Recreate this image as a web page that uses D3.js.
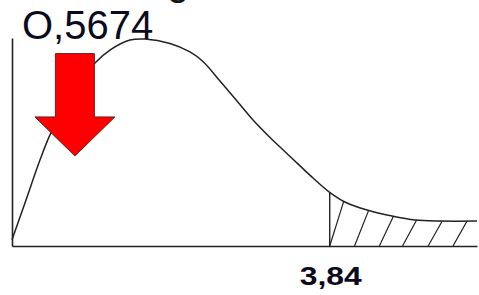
<!DOCTYPE html>
<html>
<head>
<meta charset="utf-8">
<script src="https://cdn.jsdelivr.net/npm/d3@7"></script>
<style>
  body { margin: 0; background: #fff; }
  svg { display: block; }
</style>
</head>
<body>
<div id="chart"></div>
<script>
// curve (x = chi-square value, y = relative density)
var curveX = [0, 0.157, 0.338, 0.459, 0.70, 1.003, 1.184, 1.426, 1.607, 1.910, 2.151, 2.308, 2.514, 2.719, 2.913, 3.118, 3.239, 3.481, 3.638, 3.843, 4.037, 4.291, 4.593, 4.871, 5.173, 5.62];
var curveY = [0.03, 0.207, 0.413, 0.534, 0.72, 0.880, 0.942, 0.990, 0.995, 0.974, 0.933, 0.887, 0.793, 0.697, 0.606, 0.522, 0.476, 0.385, 0.327, 0.257, 0.209, 0.173, 0.144, 0.125, 0.120, 0.120];
var critical = 3.84;
var critLabel = "3,84";
var hatchStarts = [3.84, 4.14, 4.44, 4.72, 5.03, 5.33];
var pLabel = "O,5674";
var arrowX = 0.76, arrowTop = 0.925, arrowTip = 0.433;

var w = 479, h = 295;
var chart = document.getElementById("chart");

var scaleX = d3.scaleLinear().domain([0, 5.62]).range([12, 477]);
var scaleY = d3.scaleLinear().domain([0, 1]).range([246, 38]);

var pts = curveX.map((x, i) => [x, curveY[i]]);
var bis = d3.bisector(d => d[0]).left;
function densityAt(x) {
  var i = bis(pts, x);
  if (i <= 0) return pts[0][1];
  if (i >= pts.length) return pts[pts.length - 1][1];
  var a = pts[i - 1], b = pts[i];
  return a[1] + (b[1] - a[1]) * (x - a[0]) / (b[0] - a[0]);
}

var svg = d3.select("#chart").append("svg")
  .attr("width", w)
  .attr("height", h);

// cut-off text above the figure
svg.append("text")
  .attr("x", 167).attr("y", -5)
  .attr("font-family", "Liberation Sans, Arial, sans-serif")
  .attr("font-size", 40)
  .attr("fill", "#111")
  .text("g");

// axes (lines only)
svg.append("g")
  .attr("transform", "translate(0," + scaleY(0) + ")")
  .call(d3.axisBottom(scaleX).ticks(0).tickSize(0).tickFormat(""))
  .select(".domain").attr("stroke", "#222").attr("stroke-width", 1.6);
svg.append("g")
  .attr("transform", "translate(" + scaleX(0) + ",0)")
  .call(d3.axisLeft(scaleY).ticks(0).tickSize(0).tickFormat(""))
  .select(".domain").attr("stroke", "#222").attr("stroke-width", 1.6);

// hatching in the rejection area
var slant = 0.17;
svg.append("g").selectAll("line")
  .data(hatchStarts)
  .enter().append("line")
  .attr("x1", d => scaleX(d))
  .attr("y1", scaleY(0))
  .attr("x2", d => scaleX(d + slant))
  .attr("y2", d => scaleY(densityAt(d + slant)))
  .attr("stroke", "#222")
  .attr("stroke-width", 1.2);

// critical value line
svg.append("line")
  .attr("x1", scaleX(critical)).attr("x2", scaleX(critical))
  .attr("y1", scaleY(0)).attr("y2", scaleY(densityAt(critical)))
  .attr("stroke", "#222").attr("stroke-width", 1.4);

// density curve
var line = d3.line()
  .x(d => scaleX(d[0]))
  .y(d => scaleY(d[1]))
  .curve(d3.curveCatmullRom.alpha(0.5));
svg.append("path")
  .datum(pts)
  .attr("d", line)
  .attr("fill", "none")
  .attr("stroke", "#222")
  .attr("stroke-width", 1.5);

// red arrow
var ax = scaleX(arrowX), at = scaleY(arrowTop), tip = scaleY(arrowTip);
var shaft = 19.5, head = 40, headLen = 39;
var arrow = [
  [ax - shaft, at], [ax + shaft, at], [ax + shaft, tip - headLen],
  [ax + head, tip - headLen], [ax, tip], [ax - head, tip - headLen],
  [ax - shaft, tip - headLen]
];
svg.append("path")
  .attr("d", "M" + arrow.join("L") + "Z")
  .attr("fill", "#ff0000")
  .attr("stroke", "#6b2020")
  .attr("stroke-width", 1);

// labels
svg.append("text")
  .attr("x", 22).attr("y", 39)
  .attr("font-family", "Liberation Sans, Arial, sans-serif")
  .attr("font-size", 40)
  .attr("fill", "#0b0b1e")
  .text(pLabel);

svg.append("text")
  .attr("x", scaleX(critical) + 1).attr("y", 285)
  .attr("text-anchor", "middle")
  .attr("font-family", "Liberation Sans, Arial, sans-serif")
  .attr("font-weight", "bold")
  .attr("font-size", 25)
  .attr("textLength", 62)
  .attr("lengthAdjust", "spacingAndGlyphs")
  .attr("fill", "#0b0b1e")
  .text(critLabel);
</script>
</body>
</html>
